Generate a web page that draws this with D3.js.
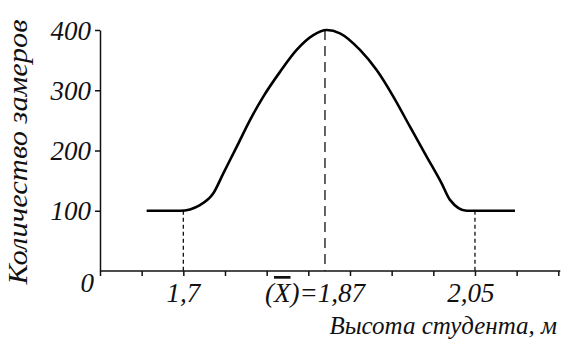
<!DOCTYPE html>
<html>
<head>
<meta charset="utf-8">
<script src="https://cdn.jsdelivr.net/npm/d3@7"></script>
<style>
  html, body { margin: 0; padding: 0; background: #fff; }
</style>
</head>
<body>
<div id="chart"></div>
<script>
// Кривая распределения роста студентов
const heights = [1.656, 1.696, 1.72, 1.736, 1.748, 1.764, 1.78, 1.796, 1.816, 1.836, 1.856, 1.872,
                 1.888, 1.912, 1.932, 1.952, 1.972, 1.992, 2.010, 2.02, 2.04, 2.098];
const counts  = [100, 100, 109.5, 129, 162, 206, 250.5, 289.5, 330.5, 367, 391.5, 400,
                 394.5, 367, 333.5, 289.5, 239.5, 190, 145.5, 118, 100, 100];

const xTicks = d3.range(12).map(i => +(1.6 + i * 0.05).toFixed(2));
const yTicks = [100, 200, 300, 400];
const markers = [
    { x: 1.7, y: 100, label: '1,7', dash: '4,3', dx: 0 },
    { x: 1.87, y: 400, label: null, dash: '10,6', dx: 0 },
    { x: 2.05, y: 100, label: '2,05', dash: '4,3', dx: -4 }
];

const FONT = '"Liberation Serif"';
const width = 572, height = 353;

const svg = d3.select('#chart').append('svg')
    .attr('width', width)
    .attr('height', height);

function serif(sel, size) {
    return sel.style('font-family', FONT)
        .style('font-style', 'italic')
        .style('font-size', size + 'px')
        .attr('fill', '#111');
}

const x = d3.scaleLinear().domain([1.6, 2.15]).range([100, 558.3]);
const y = d3.scaleLinear().domain([0, 400]).range([271, 30]);

// Оси
const xAxis = svg.append('g')
    .attr('transform', `translate(0,${y(0)})`)
    .call(d3.axisBottom(x).tickValues(xTicks).tickFormat('').tickSize(5).tickSizeOuter(0));
xAxis.select('.domain').attr('d', `M${x(1.6)},0H${x(2.15) + 2}`);

const yAxis = svg.append('g')
    .attr('transform', `translate(${x(1.6)},0)`)
    .call(d3.axisLeft(y).tickValues(yTicks).tickSize(5).tickSizeOuter(0).tickPadding(4));
svg.selectAll('.domain, .tick line').attr('stroke', '#111').attr('stroke-width', 1.5);
serif(yAxis.selectAll('.tick text'), 27).attr('dy', '0.34em');

serif(svg.append('text'), 27)
    .attr('x', 94).attr('y', 292)
    .attr('text-anchor', 'end')
    .text('0');

// Пунктирные линии
svg.append('g').selectAll('line')
    .data(markers)
    .join('line')
    .attr('x1', d => x(d.x)).attr('x2', d => x(d.x))
    .attr('y1', d => y(d.y)).attr('y2', y(0))
    .attr('stroke', '#111')
    .attr('stroke-width', 1.3)
    .attr('stroke-dasharray', d => d.dash);

// Кривая
const line = d3.line()
    .x((d, i) => x(heights[i]))
    .y(d => y(d))
    .curve(d3.curveMonotoneX);

svg.append('path')
    .datum(counts)
    .attr('fill', 'none')
    .attr('stroke', '#000')
    .attr('stroke-width', 2.6)
    .attr('stroke-linejoin', 'round')
    .attr('d', line);

// Подписи на оси X
serif(svg.append('g').selectAll('text')
    .data(markers.filter(d => d.label))
    .join('text'), 27)
    .attr('x', d => x(d.x) + d.dx)
    .attr('y', 302)
    .attr('text-anchor', 'middle')
    .text(d => d.label);

const meanLabel = serif(svg.append('text'), 27)
    .attr('x', 265).attr('y', 302);
meanLabel.append('tspan').text('(');
meanLabel.append('tspan').style('text-decoration', 'overline').text('X');
meanLabel.append('tspan').text(')=1,87');

// Подписи осей
serif(svg.append('text'), 25)
    .attr('x', 557).attr('y', 334)
    .attr('text-anchor', 'end')
    .text('Высота студента, м');

serif(svg.append('text'), 27)
    .attr('transform', 'translate(27,152) rotate(-90)')
    .attr('text-anchor', 'middle')
    .attr('textLength', 265)
    .attr('lengthAdjust', 'spacingAndGlyphs')
    .text('Количество замеров');
</script>
</body>
</html>
